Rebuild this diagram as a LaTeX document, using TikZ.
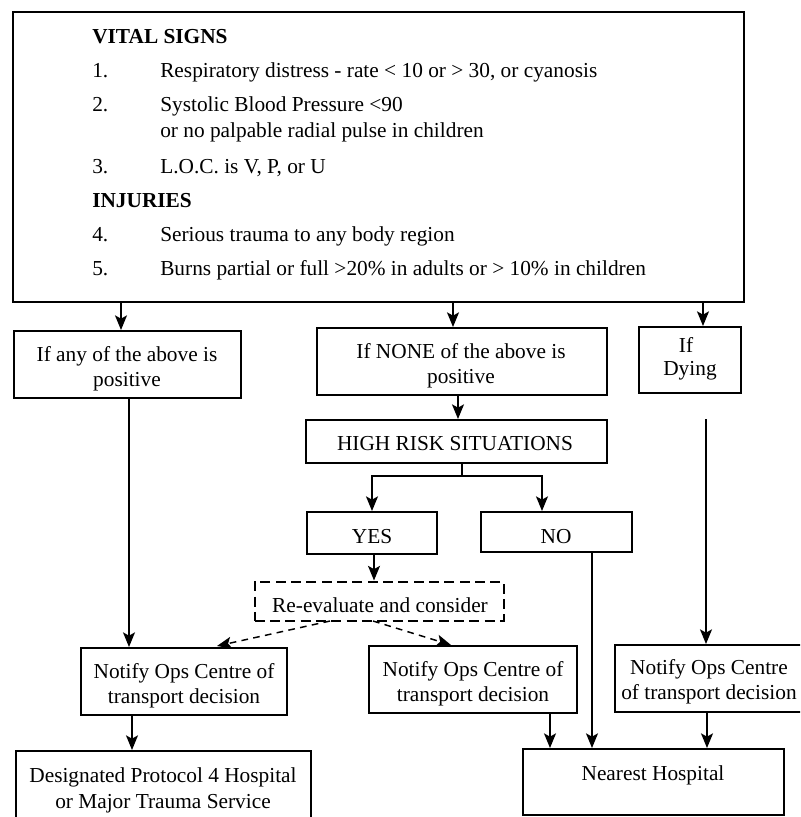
\documentclass[tikz,border=0pt]{standalone}
\usepackage{fontspec}
\setmainfont{Liberation Serif}
\usetikzlibrary{arrows.meta}
\newcommand\myfs{\fontsize{16}{19}\selectfont}
\begin{document}
\begin{tikzpicture}[x=0.75pt,y=-0.75pt,
  box/.style={draw, line width=1.5pt, inner sep=0pt, anchor=center},
  sz/.style 2 args={minimum width=#1*0.75pt, minimum height=#2*0.75pt},
  dbox/.style={box, dashed, dash pattern=on 7.5pt off 4pt, line width=1.5pt},
  txt/.style={anchor=base west, inner sep=0pt, font=\myfs},
  ctxt/.style={anchor=center, inner sep=0pt, align=center, font=\myfs},
  arr/.style={-{Stealth[length=11pt,width=9pt,inset=2.5pt]}, line width=1.1pt},
  darr/.style={arr, dashed, dash pattern=on 5pt off 4pt},
  ln/.style={line width=1.1pt}]
\clip (0,0) rectangle (800,817);
\fill[white] (0,0) rectangle (800,817);

% boxes
\node[box, sz={731}{290}] (top) at (378.5,157) {};
\node[box, sz={227}{67}] (anyp) at (127.5,364.5) {};
\node[box, sz={290}{67}] (nonep) at (462,361.5) {};
\node[box, sz={102}{66}] (dying) at (690,360) {};
\node[box, sz={301}{43}] (high) at (456.5,441.5) {};
\node[box, sz={130}{42}] (yes) at (372,533) {};
\node[box, sz={151}{40}] (no) at (556.5,532) {};
\node[dbox, sz={249}{39}] (reev) at (379,601) {};
\node[box, sz={206}{67}] (not1) at (184,681.5) {};
\node[box, sz={208}{67}] (not2) at (473,679.5) {};
\node[box, sz={205}{67}] (not3) at (717.5,678.5) {};
\node[box, sz={295}{79}] (desig) at (163.5,790.5) {};
\node[box, sz={261}{66}] (near) at (653.5,782) {};

% box texts
\node[ctxt] (anypt) at (127,369) {If any of the above is\\positive};
\node[ctxt] (nonept) at (461,366) {If NONE of the above is\\positive};
\node[inner sep=0pt, anchor=base, font=\myfs] (ift) at (686,352) {If};
\node[inner sep=0pt, anchor=base, font=\myfs] (dyingt) at (690,375) {Dying};
\node[ctxt] (hight) at (455,444) {HIGH RISK SITUATIONS};
\node[ctxt] (yest) at (372,537) {YES};
\node[ctxt] (not) at (556,537) {NO};
\node[ctxt] (reevt) at (380,605) {Re-evaluate and consider};
\node[ctxt] (not1t) at (184,686) {Notify Ops Centre of\\transport decision};
\node[ctxt] (not2t) at (473,684) {Notify Ops Centre of\\transport decision};
\node[ctxt] (not3t) at (709,681.5) {Notify Ops Centre\\of transport decision};
\node[ctxt] (desigt) at (163,790.5) {Designated Protocol 4 Hospital\\or Major Trauma Service};
\node[ctxt] (neart) at (653,775) {Nearest Hospital};

% top box text
\node[txt] (h1) at (92,44) {\textbf{VITAL SIGNS}};
\node[txt] (n1) at (92,78) {1.};
\node[txt] (l1) at (160,78) {Respiratory distress - rate < 10 or > 30, or cyanosis};
\node[txt] (n2) at (92,112) {2.};
\node[txt] (l2) at (160,112) {Systolic Blood Pressure <90};
\node[txt] (l2b) at (160,137) {or no palpable radial pulse in children};
\node[txt] (n3) at (92,173) {3.};
\node[txt] (l3) at (160,173) {L.O.C. is V, P, or U};
\node[txt] (h2) at (92,207) {\textbf{INJURIES}};
\node[txt] (n4) at (92,241) {4.};
\node[txt] (l4) at (160,241) {Serious trauma to any body region};
\node[txt] (n5) at (92,275) {5.};
\node[txt] (l5) at (160,275) {Burns partial or full >20\% in adults or > 10\% in children};

% helper x coordinates
\coordinate (xa) at (121,0);
\coordinate (xb) at (453,0);
\coordinate (xc) at (703,0);
\coordinate (xd) at (458,0);
\coordinate (xe) at (462,0);
\coordinate (xy) at (372,0);
\coordinate (xn) at (542,0);
\coordinate (xf) at (374,0);
\coordinate (xg) at (129,0);
\coordinate (xh) at (706,0);
\coordinate (xi) at (592,0);
\coordinate (xj) at (550,0);
\coordinate (xk) at (707,0);
\coordinate (xl) at (132,0);
\coordinate (split) at (462,476);
\coordinate (dstart) at (706,419);
\coordinate (ds1) at (330,621);
\coordinate (ds2) at (373,621);
\coordinate (de1) at (217,646);
\coordinate (de2) at (451,645);

% connectors
\draw[arr] (top.south -| xa) -- (anyp.north -| xa);
\draw[arr] (top.south -| xb) -- (nonep.north -| xb);
\draw[arr] (top.south -| xc) -- (dying.north -| xc);
\draw[arr] (nonep.south -| xd) -- (high.north -| xd);
\draw[ln] (high.south -| xe) -- (split);
\draw[arr] (split) -| (yes.north -| xy);
\draw[arr] (split) -| (no.north -| xn);
\draw[arr] (yes.south -| xf) -- (reev.north -| xf);
\draw[darr] (ds1) -- (de1);
\draw[darr] (ds2) -- (de2);
\draw[arr] (anyp.south -| xg) -- (not1.north -| xg);
\draw[arr] (dstart) -- (not3.north -| xh);
\draw[arr] (no.south -| xi) -- (near.north -| xi);
\draw[arr] (not2.south -| xj) -- (near.north -| xj);
\draw[arr] (not3.south -| xk) -- (near.north -| xk);
\draw[arr] (not1.south -| xl) -- (desig.north -| xl);
\end{tikzpicture}
\end{document}
